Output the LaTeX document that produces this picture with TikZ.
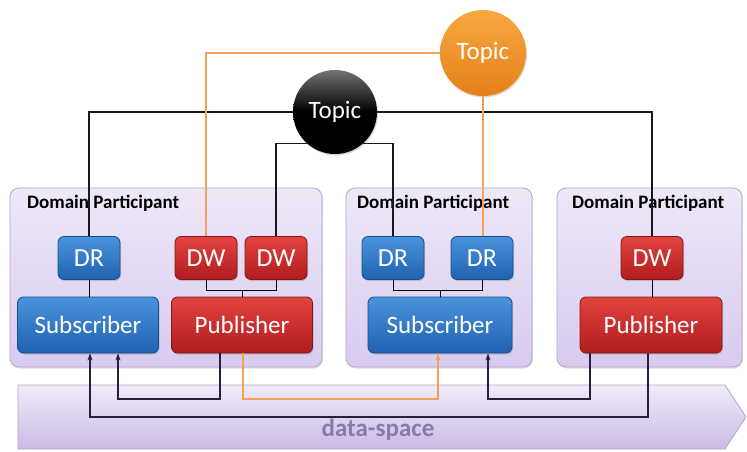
\documentclass[tikz,border=0pt]{standalone}
\usepackage{fontspec}
\setmainfont{Carlito}
\usetikzlibrary{arrows.meta,shadows}
\definecolor{partfillT}{HTML}{EEE8F8}
\definecolor{partfillB}{HTML}{D8CBEE}
\definecolor{partdraw}{HTML}{B3A5CC}
\definecolor{blueT}{HTML}{4B93DC}
\definecolor{blueB}{HTML}{1F62B0}
\definecolor{blueD}{HTML}{174E8C}
\definecolor{redT}{HTML}{E2433F}
\definecolor{redB}{HTML}{B01C1F}
\definecolor{redD}{HTML}{861417}
\definecolor{orT}{HTML}{F8A840}
\definecolor{orB}{HTML}{E6801A}
\definecolor{orline}{HTML}{F4A25A}
\definecolor{thin}{HTML}{7F9CC6}
\definecolor{dsT}{HTML}{F0EBF9}
\definecolor{dsB}{HTML}{CBBBE5}
\definecolor{dstext}{HTML}{8A7AA8}
\definecolor{navy}{HTML}{26203A}
\begin{document}
\begin{tikzpicture}[x=1pt,y=-1pt,
  part/.style={draw=partdraw,line width=0.8pt,rounded corners=9pt,top color=partfillT,bottom color=partfillB,
     drop shadow={opacity=0.25,shadow xshift=1pt,shadow yshift=-1.5pt}},
  plabel/.style={font=\fontsize{19}{19}\selectfont\bfseries,text=black,inner sep=0pt,anchor=west},
  bluebox/.style={draw=blueD,line width=0.8pt,rounded corners=6pt,top color=blueT,bottom color=blueB,text=white,
     inner sep=0pt,drop shadow={opacity=0.35,shadow xshift=1pt,shadow yshift=-1.5pt}},
  redbox/.style={draw=redD,line width=0.8pt,rounded corners=6pt,top color=redT,bottom color=redB,text=white,
     inner sep=0pt,drop shadow={opacity=0.35,shadow xshift=1pt,shadow yshift=-1.5pt}},
  small/.style={minimum width=62pt,minimum height=43pt,font=\fontsize{26}{26}\selectfont},
  big/.style={minimum width=141pt,minimum height=56pt,font=\fontsize{25}{25}\selectfont},
  topicnode/.style={circle,inner sep=0pt,text=white,font=\fontsize{25}{25}\selectfont,
     drop shadow={opacity=0.3,shadow xshift=1pt,shadow yshift=-1.5pt}},
  blk/.style={line width=1.6pt,black!90},
  org/.style={line width=1.3pt,orline},
  thinl/.style={line width=0.8pt,thin},
  bot/.style={line width=1.6pt,navy,-{Stealth[length=7pt,width=5pt]}},
  botor/.style={line width=1.3pt,orline,-{Stealth[length=7pt,width=5pt]}}
]
\useasboundingbox (0,0) rectangle (747,452);
% data-space arrow
\path[draw=partdraw,line width=0.8pt,top color=dsT,bottom color=dsB]
  (18,385) -- (725,385) -- (746,417) -- (725,449) -- (18,449) -- cycle;
\node[font=\fontsize{25}{25}\selectfont\bfseries,text=dstext] (ds) at (378,430) {data-space};
% participants
\path[part] (10,188) rectangle (322,367);
\path[part] (346,188) rectangle (532,367);
\path[part] (557,188) rectangle (742,367);
\node[plabel] (pl1) at (27,203) {Domain Participant};
\node[plabel] (pl2) at (357,203) {Domain Participant};
\node[plabel] (pl3) at (572,203) {Domain Participant};
% inner nodes
\node[bluebox,small] (DR1) at (89,258) {DR};
\node[redbox,small] (DW1) at (206,258) {DW};
\node[redbox,small] (DW2) at (276,258) {DW};
\node[bluebox,small] (DR2) at (393,258) {DR};
\node[bluebox,small] (DR3) at (482,258) {DR};
\node[redbox,small] (DW3) at (652,258) {DW};
\node[bluebox,big] (Sub1) at (88,325) {Subscriber};
\node[redbox,big] (Pub1) at (242,325) {Publisher};
\node[bluebox,big,minimum width=144pt] (Sub2) at (440,325) {Subscriber};
\node[redbox,big,minimum width=142pt] (Pub3) at (651,325) {Publisher};
% topics
\node[topicnode,minimum size=86pt,top color=orT,bottom color=orB] (topicO) at (483,53) {Topic};
\node[topicnode,minimum size=84pt,top color=black!55,bottom color=black,middle color=black] (topicB) at (335,112) {Topic};
% topic connectors
\draw[blk] (topicB.west) -| (DR1.north);
\draw[blk] (topicB.east) -| (DW3.north);
\draw[blk] (topicB.-132) -| (DW2.north);
\draw[blk] (topicB.-48) -| (DR2.north);
\draw[org] (topicO.west) -| (DW1.north);
\draw[org] (topicO.south) -- (topicO.south |- DR3.north);
% internal thin connectors
\coordinate (brk) at (0,290);
\draw[thinl] (DR1.south) -- (DR1.south |- Sub1.north);
\draw[thinl] (DW1.south) -- (DW1.south |- brk) -- (DW2.south |- brk) -- (DW2.south);
\draw[thinl] (Pub1.north |- brk) -- (Pub1.north);
\draw[thinl] (DR2.south) -- (DR2.south |- brk) -- (DR3.south |- brk) -- (DR3.south);
\draw[thinl] (Sub2.north |- brk) -- (Sub2.north);
\draw[thinl] (DW3.south) -- (DW3.south |- Pub3.north);
% bottom connectors
\coordinate (rowA) at (0,399);
\coordinate (rowB) at (0,417);
\draw[bot] ([xshift=-22pt]Pub1.south) -- ([xshift=-22pt]Pub1.south |- rowA) -| ([xshift=30pt]Sub1.south);
\draw[bot] ([xshift=-3pt]Pub3.south) -- ([xshift=-3pt]Pub3.south |- rowB) -| ([xshift=2pt]Sub1.south);
\draw[botor] ([xshift=1pt]Pub1.south) -- ([xshift=1pt]Pub1.south |- rowA) -| ([xshift=-2pt]Sub2.south);
\draw[bot] ([xshift=-61pt]Pub3.south) -- ([xshift=-61pt]Pub3.south |- rowA) -| ([xshift=48pt]Sub2.south);
\end{tikzpicture}
\end{document}
